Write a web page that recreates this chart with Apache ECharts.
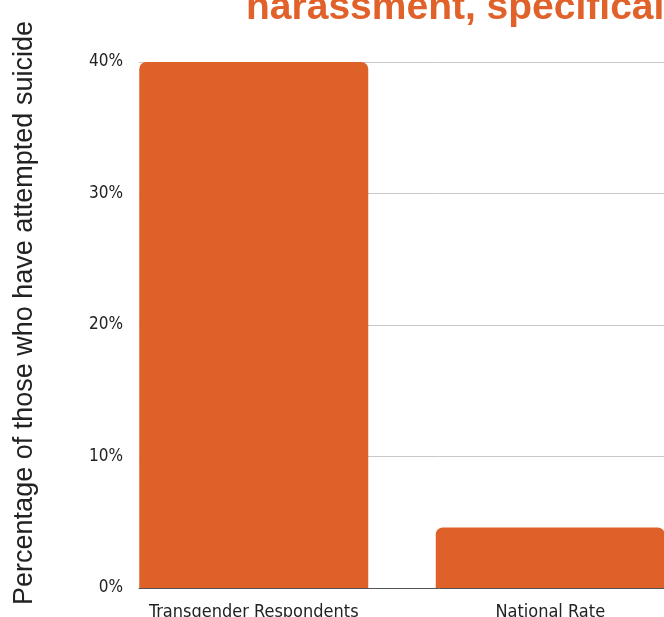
<!DOCTYPE html>
<html>
<head>
<meta charset="utf-8">
<script src="https://cdn.jsdelivr.net/npm/echarts@6/dist/echarts.min.js"></script>
<style>
html,body{margin:0;padding:0;overflow:hidden;background:#fff;}
#c{position:absolute;left:0;top:0;width:740px;height:617px;}
</style>
</head>
<body>
<div id="c"></div>
<script>
const categories = ['Transgender Respondents', 'National Rate'];
const attemptedSuicide = [40, 4.6];
const yTicks = [0, 10, 20, 30, 40];
const titleText = 'harassment, specifically';
const yAxisTitle = 'Percentage of those who have attempted suicide';

const orange = '#DE6129';
const condFont = '"DejaVu Sans Condensed", "Liberation Sans Narrow", "Roboto Condensed", "Liberation Sans", sans-serif';
const chart = echarts.init(document.getElementById('c'));
chart.setOption({
  backgroundColor: '#ffffff',
  animation: false,
  graphic: [
    {type: 'text', left: 246, top: -11,
     style: {text: titleText, fill: '#E0622A', font: 'bold 39px "Liberation Sans", Arial, sans-serif'}},
    {type: 'text', x: 25, y: 313, rotation: Math.PI / 2,
     style: {text: yAxisTitle, fill: '#222', font: '27px "Liberation Sans", Arial, sans-serif',
             align: 'center', verticalAlign: 'middle'}}
  ],
  grid: [
    {left: 139, right: 0, top: 62, bottom: 29, outerBoundsMode: 'none', containLabel: false},
    {left: 105.5, width: 593, top: 62, bottom: 29, outerBoundsMode: 'none', containLabel: false}
  ],
  xAxis: [
    {gridIndex: 0, type: 'value', min: 0, max: 1, axisLabel: {show: false}, axisTick: {show: false},
     splitLine: {show: false}, axisLine: {show: true, lineStyle: {color: '#555', width: 1}}},
    {gridIndex: 1, type: 'category', data: categories, axisLine: {show: false}, axisTick: {show: false},
     axisLabel: {interval: 0, margin: 15, color: '#222', fontSize: 18, fontWeight: 300, fontFamily: condFont}}
  ],
  yAxis: [
    {gridIndex: 0, type: 'value', min: yTicks[0], max: yTicks[yTicks.length - 1], interval: 10,
     axisLine: {show: false}, axisTick: {show: false},
     axisLabel: {margin: 16, formatter: '{value}%', color: '#222', fontSize: 17, fontWeight: 300, fontFamily: condFont},
     splitLine: {lineStyle: {color: '#c8c8c8', width: 1}}},
    {gridIndex: 1, type: 'value', min: yTicks[0], max: yTicks[yTicks.length - 1], show: false}
  ],
  series: [{
    type: 'bar', xAxisIndex: 1, yAxisIndex: 1, data: attemptedSuicide, barWidth: 229,
    itemStyle: {color: orange, borderRadius: [7, 7, 0, 0]}
  }]
});
</script>
</body>
</html>
